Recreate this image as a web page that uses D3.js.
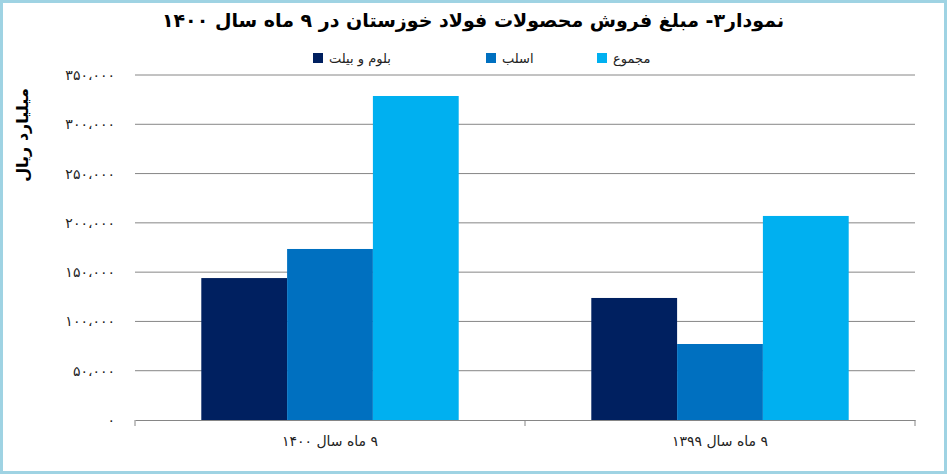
<!DOCTYPE html>
<html><head><meta charset="utf-8">
<script src="https://cdn.jsdelivr.net/npm/d3@7"></script>
<style>body{margin:0;background:#fff}svg{display:block}</style></head>
<body><svg id="c" width="947" height="474"></svg>
<script>
const categories = ["۹ ماه سال ۱۴۰۰", "۹ ماه سال ۱۳۹۹"];
const seriesNames = ["بلوم و بیلت", "اسلب", "مجموع"];
const seriesColors = ["#002060", "#0070c0", "#00b0f0"];
const bloomBillet = [144000, 123800];
const slab = [173500, 77100];
const total = [328700, 207000];
const yTicks = [0, 50000, 100000, 150000, 200000, 250000, 300000, 350000];
const title = "نمودار۳- مبلغ فروش محصولات فولاد خوزستان در ۹ ماه سال ۱۴۰۰";
const yLabel = "میلیارد ریال";

const series = [bloomBillet, slab, total];
const fa = n => String(n).replace(/\d/g, d => "۰۱۲۳۴۵۶۷۸۹"[d]);
const fmt = v => v === 0 ? "۰" : fa(d3.format(",")(v)).replace(/,/g, "،");

const svg = d3.select("#c");
svg.append("rect").attr("x",1.5).attr("y",1.5).attr("width",944).attr("height",471)
  .attr("fill","#fff").attr("stroke","#9fd3e3").attr("stroke-width",3);

const m = {l:135, r:915, t:75, b:420};
const x = d3.scaleBand().domain(categories).range([m.l, m.r]).paddingInner(0.34).paddingOuter(0.17);
const x1 = d3.scaleBand().domain(d3.range(3)).range([0, x.bandwidth()]);
const y = d3.scaleLinear().domain([0, 350000]).range([m.b, m.t]);

const g = svg.append("g");
g.selectAll(".grid").data(yTicks.slice(1)).join("line")
  .attr("x1", m.l).attr("x2", m.r).attr("y1", d=>y(d)).attr("y2", d=>y(d))
  .attr("stroke","#868686").attr("stroke-width",1);
g.selectAll(".yt").data(yTicks).join("text")
  .attr("x", m.l-20).attr("y", d=>y(d)+5).attr("text-anchor","end")
  .attr("font-family","DejaVu Sans").attr("font-size",14).attr("fill","#222").text(fmt);

categories.forEach((c,i)=>{
  series.forEach((s,j)=>{
    g.append("rect").attr("x", x(c)+x1(j)).attr("width", x1.bandwidth())
      .attr("y", y(s[i])).attr("height", y(0)-y(s[i])).attr("fill", seriesColors[j]);
  });
});

const xa = svg.append("g").attr("transform",`translate(0,${m.b})`)
  .call(d3.axisBottom(x).tickSize(0).tickValues([]));
xa.select(".domain").attr("stroke","#868686");
[m.l, (m.l+m.r)/2, m.r].forEach(v=>svg.append("line").attr("x1",v).attr("x2",v)
  .attr("y1",m.b).attr("y2",m.b+6).attr("stroke","#868686"));
categories.forEach(c=>svg.append("text").attr("x", x(c)+x.bandwidth()/2).attr("y", 446)
  .attr("text-anchor","middle").attr("direction","rtl").attr("font-family","DejaVu Sans")
  .attr("font-size",14).attr("fill","#222").text(c));

svg.append("text").attr("x",473).attr("y",27).attr("text-anchor","middle").attr("direction","rtl")
  .attr("font-family","DejaVu Sans").attr("font-weight","bold").attr("font-size",19).text(title);

svg.append("text").attr("transform","translate(28,135) rotate(-90)").attr("text-anchor","middle")
  .attr("direction","rtl").attr("font-family","DejaVu Sans").attr("font-weight","bold")
  .attr("font-size",16).text(yLabel);

const legX = [313, 486, 597];
seriesNames.forEach((n,j)=>{
  svg.append("rect").attr("x",legX[j]).attr("y",53).attr("width",10).attr("height",10).attr("fill",seriesColors[j]);
  svg.append("text").attr("x",legX[j]+16).attr("y",63).attr("text-anchor","start")
    .attr("font-family","DejaVu Sans").attr("font-size",13).attr("fill","#222").text(n);
});
</script></body></html>
